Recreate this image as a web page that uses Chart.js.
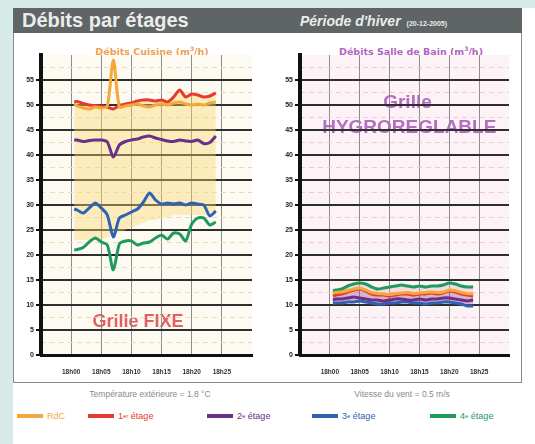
<!DOCTYPE html>
<html lang="fr">
<head>
<meta charset="utf-8">
<title>Débits par étages</title>
<script src="https://cdn.jsdelivr.net/npm/chart.js@4.4.1/dist/chart.umd.min.js"></script>
<style>
  body { margin:0; width:535px; height:444px; background:#d6ebe7; position:relative; overflow:hidden;
         font-family:'Liberation Sans', Arial, sans-serif; }
  .abs { position:absolute; }
  #feuille { left:13px; top:8px; width:522px; height:436px; background:#fff; }
  #entete { left:13px; top:8px; width:509px; height:25px; background:#5f6565; color:#ececec; }
  #entete .titre { position:absolute; left:9px; top:1px; font-size:20px; font-weight:bold; }
  #entete .periode { position:absolute; left:287px; top:5px; font-size:14px; font-weight:bold; font-style:italic; white-space:nowrap; }
  #entete .periode small { font-size:7px; font-style:normal; margin-left:6px; }
  #cadre { left:13px; top:33px; width:507px; height:349px; border:1px solid #8a8a8a; border-top:none; }
  .soustitre { font-family:'DejaVu Sans', sans-serif; font-size:9.5px; font-weight:bold; white-space:nowrap;
               transform:translateX(-50%); }
  .soustitre sup { font-size:6px; }
  .meteo { font-size:8.5px; color:#8a8a8a; white-space:nowrap; transform:translateX(-50%); }
  .leg { font-size:9px; white-space:nowrap; display:flex; align-items:center; }
  .leg i { display:inline-block; width:26px; height:4px; margin-right:4px; }
  .leg sup { font-size:6px; }
  canvas { position:absolute; }
</style>
</head>
<body>
<div id="feuille" class="abs"></div>
<div id="entete" class="abs">
  <span class="titre">Débits par étages</span>
  <span class="periode">Période d'hiver<small>(20-12-2005)</small></span>
</div>
<div id="cadre" class="abs"></div>

<div class="abs soustitre" style="left:152px;top:45px;color:#f0a050">Débits Cuisine (m<sup>3</sup>/h)</div>
<div class="abs soustitre" style="left:411px;top:45px;color:#b265c2">Débits Salle de Bain (m<sup>3</sup>/h)</div>

<canvas id="cuisine" width="252" height="345" style="left:13px;top:38px"></canvas>
<canvas id="sdb" width="250" height="345" style="left:272px;top:38px"></canvas>

<div class="abs meteo" style="left:150px;top:389px">Température extérieure = 1.8 °C</div>
<div class="abs meteo" style="left:402px;top:389px">Vitesse du vent = 0.5 m/s</div>
<div id="legende"></div>

<script>
// relevés toutes les minutes à partir de 18h00
const minutes = [0.5, 1, 2, 3, 4, 5, 6, 7, 8, 9, 10, 11, 12, 13, 14, 15, 16, 17, 18, 19, 20, 21, 22, 23, 24];
const heures = ['18h00', '18h05', '18h10', '18h15', '18h20', '18h25'];

const etages = ['RdC', '1er étage', '2e étage', '3e étage', '4e étage'];
const couleurs = ['#f5a83a', '#e63a2c', '#6a2f88', '#2f62b2', '#1f9a5c'];

// cuisine, grille fixe
const cuisineRdc = [50.2, 49.8, 49.4, 49.2, 49.6, 49.4, 49.8, 59, 49.6, 49.8, 50, 50.2, 49.8, 49.6, 50, 50.2, 50, 50.4, 50.6, 50.2, 50, 50.2, 50, 50.4, 50.6];
const cuisine1er = [50.6, 50.7, 50.3, 50, 49.9, 49.8, 49.6, 49.2, 49.9, 50.2, 50.4, 50.8, 51, 51, 50.8, 51, 50.6, 51.6, 53, 51.6, 52.2, 52, 51.6, 51.8, 52.4];
const cuisine2e = [43, 43, 42.7, 42.9, 43, 43, 42.6, 39.6, 42, 42.7, 43, 43.2, 43.6, 43.8, 43.4, 43.1, 42.8, 42.7, 43, 42.8, 42.7, 43, 42.3, 42.5, 43.8];
const cuisine3e = [29.2, 29, 28.4, 29.4, 30.4, 29.4, 28, 23.6, 27.4, 28, 28.6, 29.2, 30.6, 32.4, 31, 30.2, 30.4, 30.2, 30.4, 30, 30.4, 30.2, 30, 27.8, 28.8];
const cuisine4e = [21, 21.1, 21.5, 22.6, 23.4, 22.6, 22, 17, 22.2, 22.8, 22.8, 22, 22.4, 22.6, 23.4, 24, 23.2, 24.4, 24.2, 22.8, 26.2, 27.4, 27.4, 26, 26.6];
// bas de la zone jaune sous le 1er étage
const cuisineZoneBas = [23, 23, 23, 23, 23, 23, 23.5, 24, 24.5, 25, 25.5, 26, 26.5, 27, 27, 27.5, 27.5, 28, 28, 28, 28, 28, 28, 28, 28];

// salle de bain, grille hygroréglable
const sdbRdc = [12.4, 12.5, 12.6, 12.9, 13.2, 13.4, 13, 12.5, 12.3, 12.2, 12.1, 12.3, 12.4, 12.5, 12.3, 12.4, 12.5, 12.6, 12.5, 12.6, 13, 12.9, 12.5, 12.3, 12.2];
const sdb1er = [11.8, 12, 12.2, 12.6, 13, 13.2, 12.8, 12.2, 12, 12, 11.8, 12, 12.2, 12.2, 12, 12.2, 12.2, 12.4, 12.2, 12.4, 12.8, 12.6, 12.2, 12, 11.8];
const sdb2e = [11, 11.2, 11.2, 11.4, 11.6, 11.4, 11.2, 11, 11, 10.8, 11, 11.2, 11.2, 11, 11, 11.2, 11, 11.2, 11.2, 11.4, 11.4, 11.2, 11, 10.8, 11];
const sdb3e = [10.4, 10.4, 10.4, 10.6, 10.6, 10.8, 10.6, 10.4, 10.2, 10.2, 10.4, 10.4, 10.6, 10.6, 10.4, 10.4, 10.2, 10.4, 10.4, 10.6, 10.6, 10.4, 10.2, 9.8, 9.8];
const sdb4e = [12.8, 13, 13.2, 13.8, 14.2, 14.4, 14.2, 13.6, 13.2, 13.4, 13.6, 13.8, 14, 13.8, 13.6, 13.8, 13.6, 13.8, 13.8, 14, 14.4, 14.2, 13.8, 13.6, 13.6];

Chart.defaults.font.family = "'Liberation Sans', Arial, sans-serif";

const points = arr => minutes.map((m, i) => ({ x: m, y: arr[i] }));

// fond de la zone de tracé + textes posés sous la grille
const fondEtTexte = {
  id: 'fondEtTexte',
  beforeDraw(chart, args, opts) {
    const { ctx, chartArea: a, scales } = chart;
    ctx.save();
    ctx.fillStyle = opts.fond;
    ctx.fillRect(a.left, a.top, a.right - a.left, a.bottom - a.top);
    ctx.font = opts.police;
    ctx.fillStyle = opts.couleur;
    ctx.textAlign = 'center';
    ctx.textBaseline = 'middle';
    opts.textes.forEach(t => {
      ctx.fillText(t.texte, scales.x.getPixelForValue(t.x), scales.y.getPixelForValue(t.y));
    });
    ctx.restore();
  }
};

function creerGraphique(id, series, extra, reglages) {
  const datasets = series.map((s, i) => ({
    label: etages[i],
    data: points(s),
    borderColor: couleurs[i],
    borderWidth: 3,
    pointRadius: 0,
    tension: 0.25,
    fill: false
  }));
  extra(datasets);

  return new Chart(document.getElementById(id), {
    type: 'line',
    data: { datasets },
    options: {
      responsive: false,
      animation: false,
      layout: { padding: { top: 17, right: reglages.droite, left: 0, bottom: 0 } },
      plugins: {
        legend: { display: false },
        tooltip: { enabled: false },
        filler: { drawTime: 'beforeDatasetsDraw' },
        fondEtTexte: reglages.texte
      },
      scales: {
        x: {
          type: 'linear', min: -5, max: 30,
          afterFit: s => { s.height = 28; },
          ticks: {
            stepSize: 5, padding: 13, autoSkip: false, maxRotation: 0,
            font: { size: 6.5, weight: 'bold' }, color: '#333',
            callback: v => heures[v / 5] || ''
          },
          grid: {
            drawTicks: false, lineWidth: 1,
            color: c => (c.tick && c.tick.value >= 0 && c.tick.value <= 25) ? '#8c8c8c' : 'rgba(0,0,0,0)'
          },
          border: { color: '#111', width: 3 }
        },
        yMineur: {
          min: 0, max: 60, position: 'left',
          afterFit: s => { s.width = 0; },
          ticks: { display: false, stepSize: 2.5 },
          grid: {
            drawTicks: false, lineWidth: 1,
            color: c => (c.tick && c.tick.value % 5 !== 0) ? reglages.tirets : 'rgba(0,0,0,0)'
          },
          border: { display: false, dash: [5, 4] }
        },
        y: {
          min: 0, max: 60,
          afterFit: s => { s.width = 28; },
          ticks: {
            stepSize: 5, padding: 2,
            font: { size: 7, weight: 'bold' }, color: '#222',
            callback: v => v < 60 ? v : ''
          },
          grid: {
            lineWidth: 2, tickLength: 5, tickWidth: 2,
            color: c => (c.tick && c.tick.value > 0 && c.tick.value < 60) ? '#2e2e2e' : 'rgba(0,0,0,0)',
            tickColor: c => (c.tick && c.tick.value < 60) ? '#111' : 'rgba(0,0,0,0)'
          },
          border: { color: '#111', width: 4 }
        }
      }
    },
    plugins: [fondEtTexte]
  });
}

// Débits cuisine : zone jaune entre le 1er étage et le bas de la plage
creerGraphique('cuisine', [cuisineRdc, cuisine1er, cuisine2e, cuisine3e, cuisine4e], ds => {
  ds[1].fill = { target: 5 };
  ds[1].backgroundColor = 'rgba(250, 214, 110, 0.4)';
  ds.push({ data: points(cuisineZoneBas), borderWidth: 0, pointRadius: 0, tension: 0.25, fill: false });
}, {
  droite: 7,
  tirets: '#e6dac4',
  texte: {
    fond: '#fdfaf1',
    police: "bold 18px 'Liberation Sans', Arial, sans-serif",
    couleur: '#e26060',
    textes: [{ texte: 'Grille FIXE', x: 11.1, y: 6.6 }]
  }
});

// Débits salle de bain
creerGraphique('sdb', [sdbRdc, sdb1er, sdb2e, sdb3e, sdb4e], ds => {
  ds[4].fill = { target: 1 };
  ds[4].backgroundColor = 'rgba(235, 170, 190, 0.35)';
  ds[1].fill = { target: 3 };
  ds[1].backgroundColor = 'rgba(150, 60, 130, 0.35)';
}, {
  droite: 7,
  tirets: '#e8cdd7',
  texte: {
    fond: '#fdf3f6',
    police: "bold 19px 'Liberation Sans', Arial, sans-serif",
    couleur: '#b46cc4',
    textes: [
      { texte: 'Grille', x: 13, y: 50.4 },
      { texte: 'HYGROREGLABLE', x: 13.3, y: 45.4 }
    ]
  }
});

// légende sous les graphiques
const legX = [17, 88, 207, 312, 430];
const legende = document.getElementById('legende');
etages.forEach((nom, i) => {
  const el = document.createElement('div');
  el.className = 'abs leg';
  el.style.left = legX[i] + 'px';
  el.style.top = '411px';
  el.style.color = couleurs[i];
  const txt = nom.replace(/^(\d)(er|e) /, '$1<sup>$2</sup>&nbsp;');
  el.innerHTML = '<i style="background:' + couleurs[i] + '"></i>' + txt;
  legende.appendChild(el);
});
</script>
</body>
</html>
